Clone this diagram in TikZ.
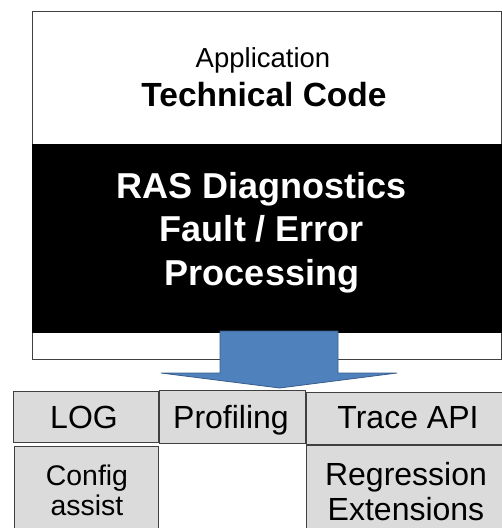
\documentclass[tikz,border=0pt]{standalone}
\usepackage{fontspec}
\setmainfont{Liberation Sans}
\begin{document}
\begin{tikzpicture}[x=1pt,y=-1pt,
  frame/.style={draw=black!75, line width=1pt, inner sep=0pt, anchor=north west},
  graybox/.style={frame, fill=gray!28},
  txt/.style={inner sep=0pt, anchor=base, align=center}
]
\definecolor{arrowfill}{HTML}{4F81BD}
\definecolor{arrowline}{HTML}{385D8A}
\useasboundingbox (0,0) rectangle (502,528);
\clip (0,0) rectangle (502,528);
% main panel
\node (outer) [frame, fill=white, minimum width=469pt, minimum height=348pt] at (32,11) {};
\node (band) [inner sep=0pt, anchor=north west, fill=black, minimum width=470pt, minimum height=189pt] at (32,144) {};
% texts in panel
\node (app) [txt, font=\fontsize{27.5}{33}\selectfont] at (263,67) {Application};
\node (tech) [txt, font=\fontsize{33.5}{40}\bfseries\selectfont] at (264,106) {Technical Code};
\node (ras) [txt, text=white, font=\fontsize{36}{43.5}\bfseries\selectfont] at (262,285) {RAS Diagnostics\\Fault / Error\\Processing};
% block arrow
\coordinate (tip) at (279.5,388);
\draw[fill=arrowfill, draw=arrowline, line width=0.8pt]
  (220,331) -- (338,331) -- (338,373) -- (397,373) -- (tip) -- (161,373) -- (220,373) -- cycle;
% bottom boxes
\node (logb) [graybox, minimum width=145pt, minimum height=51pt] at (13,391) {};
\node (profb) [graybox, minimum width=146pt, minimum height=53pt] at (159,390) {};
\node (traceb) [graybox, minimum width=204pt, minimum height=52pt] at (306,392) {};
\node (confb) [graybox, minimum width=144pt, minimum height=90pt] at (14,446) {};
\node (regb) [graybox, minimum width=204pt, minimum height=90pt] at (306,445) {};
\node (log) [txt, font=\fontsize{32}{38}\selectfont] at (84,428) {LOG};
\node (prof) [txt, font=\fontsize{32}{38}\selectfont] at (231,428) {Profiling};
\node (trace) [txt, font=\fontsize{32}{38}\selectfont] at (408,428) {Trace API};
\node (conf) [txt, font=\fontsize{28.4}{30}\selectfont] at (87,515) {Config\\assist};
\node (reg) [txt, font=\fontsize{32}{35}\selectfont] at (406,520) {Regression\\Extensions};
\end{tikzpicture}
\end{document}
